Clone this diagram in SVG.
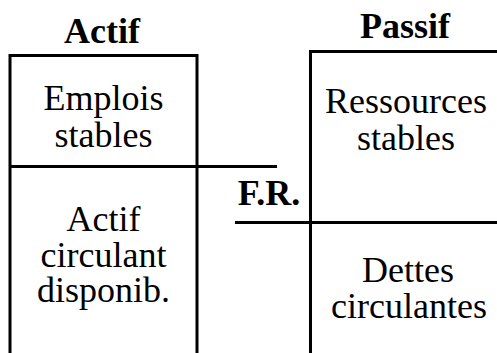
<svg xmlns="http://www.w3.org/2000/svg" width="497" height="353" viewBox="0 0 497 353">
<style>
.ln{stroke:#000;stroke-width:3;fill:none}
text{font-size:36px;fill:#000;text-anchor:middle}
.b{font-weight:bold}
</style>
<rect width="497" height="353" fill="#fff"/>
<g id="connectors">
<polyline class="ln" points="10,353 10,55.5 197,55.5 197,353"/>
<line class="ln" x1="10" y1="166.5" x2="277" y2="166.5"/>
<polyline class="ln" points="310.5,353 310.5,51.5 497,51.5"/>
<line class="ln" x1="235" y1="222.5" x2="497" y2="222.5"/>
</g>
<g font-family="Liberation Serif, Times New Roman, DejaVu Serif, serif">
<g id="actif-title"><text class="b" x="102" y="43">Actif</text></g>
<g id="passif-title"><text class="b" x="405" y="38">Passif</text></g>
<g id="emplois"><text x="103.5" y="110">Emplois</text><text x="103.5" y="147">stables</text></g>
<g id="actif-circulant"><text x="103.5" y="231">Actif</text><text x="103.5" y="267">circulant</text><text x="103.5" y="302">disponib.</text></g>
<g id="ressources"><text x="406" y="113">Ressources</text><text x="406" y="150">stables</text></g>
<g id="dettes"><text x="408" y="282">Dettes</text><text x="409" y="318">circulantes</text></g>
<g id="fr"><text class="b" x="269" y="205">F.R.</text></g>
</g>
</svg>
